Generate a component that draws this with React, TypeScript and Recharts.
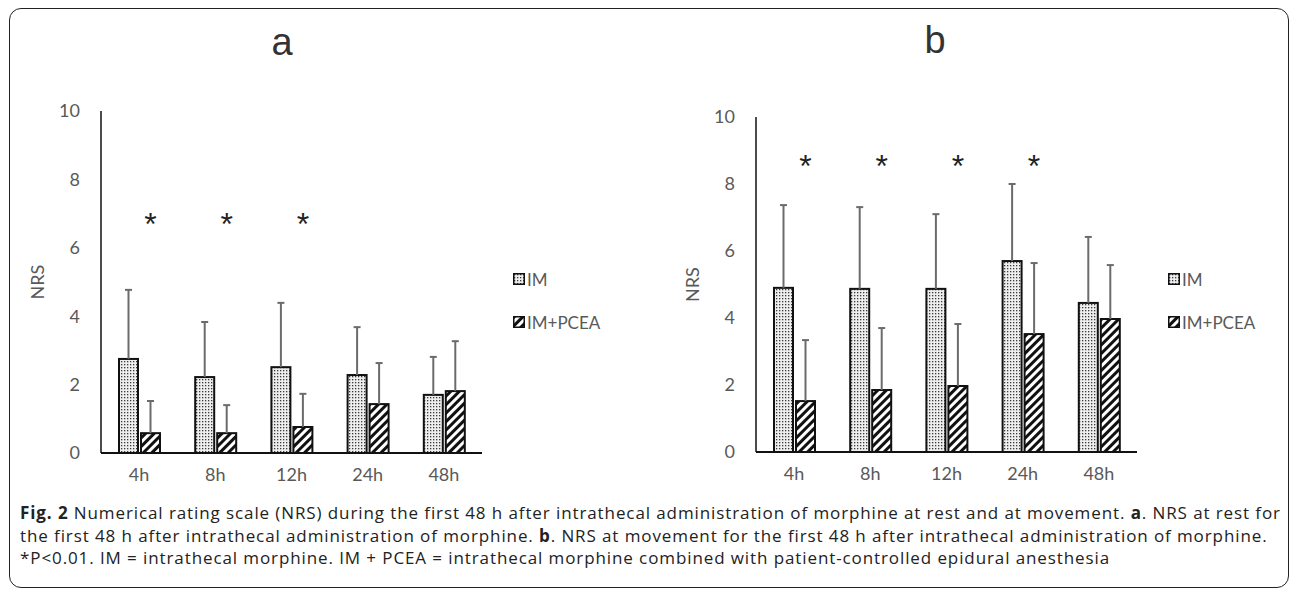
import React from 'react';
import { BarChart, Bar, XAxis, YAxis, Legend } from 'recharts';

// time points after intrathecal morphine
const times = ['4h', '8h', '12h', '24h', '48h'];
const yTicks = [0, 2, 4, 6, 8, 10];

// panel a: NRS at rest (mean, SD drawn as upper error bar)
const restIM = [2.75, 2.22, 2.51, 2.28, 1.7];
const restIMSd = [2.02, 1.61, 1.88, 1.4, 1.11];
const restPCEA = [0.58, 0.58, 0.76, 1.43, 1.81];
const restPCEASd = [0.94, 0.82, 0.97, 1.2, 1.46];
const restSig = [true, true, true, false, false];
const restStarLevel = 6.9;

// panel b: NRS at movement
const moveIM = [4.9, 4.87, 4.87, 5.7, 4.45];
const moveIMSd = [2.47, 2.44, 2.23, 2.3, 1.97];
const movePCEA = [1.52, 1.85, 1.97, 3.52, 3.97];
const movePCEASd = [1.82, 1.85, 1.85, 2.12, 1.61];
const moveSig = [true, true, true, true, false];
const moveStarLevel = 8.75;

const FONT = 'Lato, "Open Sans", sans-serif';
const GREY = '#595959';

function buildRows(im: number[], imSd: number[], pcea: number[], pceaSd: number[], sig: boolean[]) {
  return times.map((t, i) => ({
    t,
    im: im[i],
    imSd: imSd[i],
    pcea: pcea[i],
    pceaSd: pceaSd[i],
    sig: sig[i],
  }));
}

const restRows = buildRows(restIM, restIMSd, restPCEA, restPCEASd, restSig);
const moveRows = buildRows(moveIM, moveIMSd, movePCEA, movePCEASd, moveSig);

// bar with pattern fill + one-sided SD bar (+ asterisk for P<0.01)
function makeShape(patternId: string, valueKey: string, sdKey: string, starLevel?: number) {
  return (props: any) => {
    const { x, y, width, height, payload } = props;
    const v = payload[valueKey];
    const perUnit = v ? height / v : 0;
    const base = y + height;
    const errTop = y - payload[sdKey] * perUnit;
    const cx = x + width / 2;
    const starY = base - (starLevel ?? 0) * perUnit;
    return (
      <g>
        <rect x={x} y={y} width={width} height={height} fill={`url(#${patternId})`} stroke="#111" strokeWidth={2} />
        <line x1={cx} x2={cx} y1={y} y2={errTop} stroke="#6b6b6b" strokeWidth={2} />
        <line x1={cx - 3.5} x2={cx + 3.5} y1={errTop} y2={errTop} stroke="#6b6b6b" strokeWidth={2} />
        {starLevel !== undefined && payload.sig && (
          <text x={cx} y={starY + 18} textAnchor="middle" fontSize={32} fontFamily="Liberation Sans, Arial" fill="#222">
            *
          </text>
        )}
      </g>
    );
  };
}

function LegendBox() {
  const item = (pat: string, label: string) => (
    <div style={{ display: 'flex', alignItems: 'center', height: 22, marginBottom: 21 }}>
      <svg width={12} height={12} style={{ marginRight: 2 }}>
        <rect x={0.75} y={0.75} width={10.5} height={10.5} fill={`url(#${pat})`} stroke="#111" strokeWidth={1.5} />
      </svg>
      <span style={{ fontFamily: FONT, fontSize: 17, color: GREY }}>{label}</span>
    </div>
  );
  return (
    <div>
      {item('dots', 'IM')}
      {item('hatch', 'IM+PCEA')}
    </div>
  );
}

function Panel({ rows, starLevel, top, bottom }: { rows: any[]; starLevel: number; top: number; bottom: number }) {
  return (
    <BarChart
      width={640}
      height={500}
      data={rows}
      margin={{ top, left: 41, right: 158, bottom }}
      barSize={19}
      barGap={3}
    >
      <XAxis
        dataKey="t"
        axisLine={{ stroke: '#111', strokeWidth: 2 }}
        tickLine={false}
        tickMargin={9}
        tick={{ fill: GREY, fontSize: 18, fontFamily: FONT }}
        height={30}
      />
      <YAxis
        domain={[0, 10]}
        ticks={yTicks}
        width={60}
        axisLine={{ stroke: '#111', strokeWidth: 1.5 }}
        tickLine={false}
        tickMargin={15}
        tick={{ fill: GREY, fontSize: 18, fontFamily: FONT }}
        label={{
          value: 'NRS',
          content: (p: any) => {
            const vb = p.viewBox;
            const cx = vb.x - 4;
            const cy = vb.y + vb.height / 2;
            return (
              <text x={cx} y={cy} transform={`rotate(-90 ${cx} ${cy})`} textAnchor="middle" dominantBaseline="central" fontSize={18} fontFamily={FONT} fill={GREY}>
                NRS
              </text>
            );
          },
        }}
      />
      <Legend
        layout="horizontal"
        verticalAlign="middle"
        align="center"
        wrapperStyle={{ left: 513, top: 268, width: 120, height: 90 }}
        content={() => <LegendBox />}
      />
      <Bar dataKey="im" name="IM" isAnimationActive={false} shape={makeShape('dots', 'im', 'imSd')} />
      <Bar dataKey="pcea" name="IM+PCEA" isAnimationActive={false} shape={makeShape('hatch', 'pcea', 'pceaSd', starLevel)} />
    </BarChart>
  );
}

export default function App() {
  return (
    <div style={{ position: 'absolute', left: 0, top: 0, width: 1292, height: 590, background: '#fff', overflow: 'hidden' }}>
      <svg width={0} height={0} style={{ position: 'absolute' }}>
        <defs>
          <pattern id="dots" width={3} height={3} patternUnits="userSpaceOnUse">
            <rect width={3} height={3} fill="#eeeeee" />
            <rect x={1} y={1} width={1.3} height={1.3} fill="#3a3a3a" />
          </pattern>
          <pattern id="hatch" width={6} height={6} patternUnits="userSpaceOnUse" patternTransform="rotate(45)">
            <rect width={6} height={6} fill="#fff" />
            <rect width={3} height={6} fill="#111" />
          </pattern>
        </defs>
      </svg>
      <div style={{ position: 'absolute', left: 9, top: 8, width: 1280, height: 580, border: '1.5px solid #222', borderRadius: 12, boxSizing: 'border-box' }} />
      <div style={{ position: 'absolute', left: 282, top: 42, transform: 'translate(-50%, -50%)', fontFamily: 'Liberation Sans, Arial', fontSize: 38, color: '#333' }}>a</div>
      <div style={{ position: 'absolute', left: 935, top: 40, transform: 'translate(-50%, -50%)', fontFamily: 'Liberation Sans, Arial', fontSize: 38, color: '#333' }}>b</div>
      <div style={{ position: 'absolute', left: 0, top: 0 }}>
        <Panel rows={restRows} starLevel={restStarLevel} top={111} bottom={17} />
      </div>
      <div style={{ position: 'absolute', left: 655, top: 0 }}>
        <Panel rows={moveRows} starLevel={moveStarLevel} top={117} bottom={18} />
      </div>
      <div style={{ position: 'absolute', left: 20, top: 502, fontFamily: '"Open Sans", sans-serif', fontSize: 17, letterSpacing: 0.9, lineHeight: '22.5px', color: '#222', whiteSpace: 'nowrap' }}>
        <div><b>Fig. 2</b> Numerical rating scale (NRS) during the first 48 h after intrathecal administration of morphine at rest and at movement. <b>a</b>. NRS at rest for</div>
        <div>the first 48 h after intrathecal administration of morphine. <b>b</b>. NRS at movement for the first 48 h after intrathecal administration of morphine.</div>
        <div>*P&lt;0.01. IM = intrathecal morphine. IM + PCEA = intrathecal morphine combined with patient-controlled epidural anesthesia</div>
      </div>
    </div>
  );
}
